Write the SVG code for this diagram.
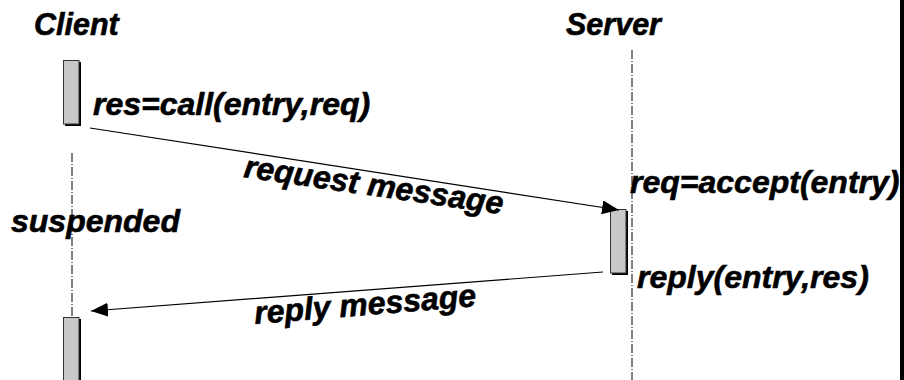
<svg xmlns="http://www.w3.org/2000/svg" width="904" height="380" viewBox="0 0 904 380">
<style>
.t{font-family:"Liberation Sans",Arial,sans-serif;font-weight:bold;font-style:italic;fill:#000;stroke:#000;stroke-width:0.6}
.h{font-size:30.5px}
.l{font-size:32px}
.life{stroke:#000;stroke-width:1;stroke-dasharray:9 2 1 2;fill:none}
.box{fill:#c8c8c8;stroke:#333;stroke-width:1}
.sh{fill:#000}
.msg{stroke:#000;stroke-width:1.2;fill:none}
</style>
<defs>
<marker id="ah" markerWidth="18" markerHeight="14" refX="17" refY="7" orient="auto" markerUnits="userSpaceOnUse">
<path d="M0,0 L17,7 L0,14 Z" fill="#000"/>
</marker>
</defs>
<rect x="0" y="0" width="904" height="380" fill="#fff"/>
<rect x="900" y="0" width="4" height="380" fill="#000"/>
<g id="client">
<text class="t h" x="34" y="35">Client</text>
<line class="life" x1="72" y1="153" x2="72" y2="320"/>
<g id="client-act1">
<rect class="sh" x="65" y="62" width="16" height="64"/>
<rect class="box" x="63.5" y="60.5" width="15.5" height="63.5"/>
</g>
<g id="client-act2">
<rect class="sh" x="65" y="319" width="16" height="70"/>
<rect class="box" x="63.5" y="317.5" width="15.5" height="70"/>
</g>
<text class="t l" x="93" y="115">res=call(entry,req)</text>
<text class="t l" x="11" y="232">suspended</text>
</g>
<g id="server">
<text class="t h" x="566" y="35">Server</text>
<line class="life" x1="632" y1="50" x2="632" y2="380"/>
<g id="server-act">
<rect class="sh" x="612" y="211" width="16" height="64"/>
<rect class="box" x="610.5" y="209.5" width="15.5" height="63.5"/>
</g>
<text class="t l" x="630" y="193">req=accept(entry)</text>
<text class="t l" x="637" y="288">reply(entry,res)</text>
</g>
<g id="connectors">
<line class="msg" x1="90" y1="128" x2="619" y2="210" marker-end="url(#ah)"/>
<line class="msg" x1="603" y1="272" x2="91" y2="311" marker-end="url(#ah)"/>
<text class="t l" transform="translate(243,177) rotate(8.2)">request message</text>
<text class="t l" transform="translate(255,324) rotate(-4.6)">reply message</text>
</g>
</svg>
